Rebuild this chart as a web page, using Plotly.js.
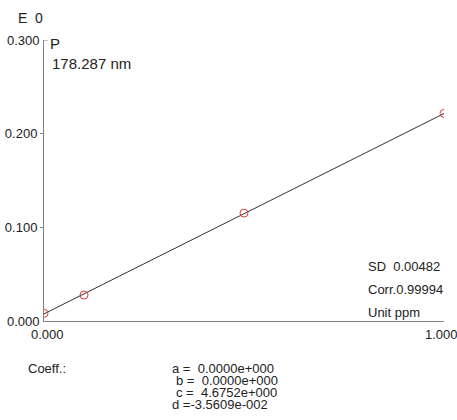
<!DOCTYPE html>
<html>
<head>
<meta charset="utf-8">
<script src="https://cdn.plot.ly/plotly-3.0.1.min.js"></script>
<style>html,body{margin:0;padding:0;background:#fff;}#chart{width:457px;height:420px;}</style>
</head>
<body>
<div id="chart"></div>
<script>
// Data
const concentration = [0.0, 0.1, 0.5, 1.0];
const absorbance = [0.0082, 0.0277, 0.1152, 0.2216];
const fitX = [0.0, 1.0];
const fitY = [0.0076, 0.2215];
const yTickVals = [0.1, 0.2];
const yTickText = ['0.100', '0.200'];
const yEndVals = [0.0, 0.3];
const yEndText = ['0.000', '0.300'];
const xTickVals = [0.0, 1.0];
const xTickText = ['0.000', '1.000'];
const coeffNames = ['a', 'b', 'c', 'd'];
const coeffValues = ['0.0000e+000', '0.0000e+000', '4.6752e+000', '-3.5609e-002'];
const statsLines = ['SD\u00a0\u00a00.00482', 'Corr.0.99994', 'Unit ppm'];

const FONT = 'Liberation Sans, Arial, sans-serif';
const TXT = '#222';
const AX = '#808080';
const W = 457, H = 420;
const L = 44, R = 444, T = 40, B = 321;
const px = v => (v - L) / (R - L);
const py = v => (B - v) / (B - T);

const traces = [
  {x: fitX, y: fitY, mode: 'lines', line: {color: '#333', width: 1}, hoverinfo: 'skip'},
  {x: concentration, y: absorbance, mode: 'markers',
   marker: {symbol: 'circle-open', size: 8, color: '#e23a3a', line: {width: 1, color: '#e23a3a'}}}
];

const ann = [];
function txt(text, x, y, size, xanchor, h) {
  const a = {text: text, xref: 'paper', yref: 'paper', x: px(x), y: py(y), xanchor: xanchor || 'left',
    yanchor: 'middle', showarrow: false, font: {family: FONT, size: size || 13, color: TXT}, borderpad: 0};
  if (h) a.height = h;
  ann.push(a);
}
txt('E\u00a0\u00a00', 17, 18, 14);
txt('P', 49, 44, 15);
txt('178.287 nm', 51, 64, 15);
statsLines.forEach((s, i) => txt(s, 367, 266 + i * 23, 13));
xTickVals.forEach((v, i) => txt(xTickText[i], L + v * (R - L) + (i === 0 ? 3 : -3), 334, 13, 'center'));
yEndVals.forEach((v, i) => ann.push({text: yEndText[i], xref: 'paper', yref: 'y', x: px(41), y: v,
  xanchor: 'right', yanchor: 'middle', showarrow: false, borderpad: 0,
  font: {family: FONT, size: 13, color: TXT}}));
txt('Coeff.:', 27, 368, 13);
const coeffX = [171, 175, 175, 171];
const coeffSep = [' =  ', ' =  ', ' =  ', ' ='];
coeffNames.forEach((n, i) => txt(n + coeffSep[i].replace(/ /g, '\u00a0') + coeffValues[i], coeffX[i], 368 + i * 12, 13, 'left', 12));

const layout = {
  width: W, height: H,
  margin: {l: L, r: W - R, t: T, b: H - B, pad: 0},
  paper_bgcolor: '#fff', plot_bgcolor: '#fff',
  showlegend: false,
  xaxis: {range: [0, 1], showgrid: false, zeroline: false, showline: true, linecolor: AX, linewidth: 1,
    tickvals: xTickVals, showticklabels: false, ticks: 'inside', ticklen: 4, tickcolor: AX, tickwidth: 1,
    fixedrange: true},
  yaxis: {range: [0, 0.3], showgrid: false, zeroline: false, showline: true, linecolor: AX, linewidth: 1,
    tickvals: yTickVals, ticktext: yTickText, ticks: 'outside', ticklen: 3, tickcolor: AX, tickwidth: 1,
    tickfont: {family: FONT, size: 13, color: TXT}, fixedrange: true},
  shapes: [
    {type: 'line', xref: 'paper', yref: 'y', x0: 0, x1: px(L + 4), y0: 0.3, y1: 0.3, line: {color: AX, width: 1}}
  ],
  annotations: ann
};
Plotly.newPlot('chart', traces, layout, {displayModeBar: false, staticPlot: true});
</script>
</body>
</html>
